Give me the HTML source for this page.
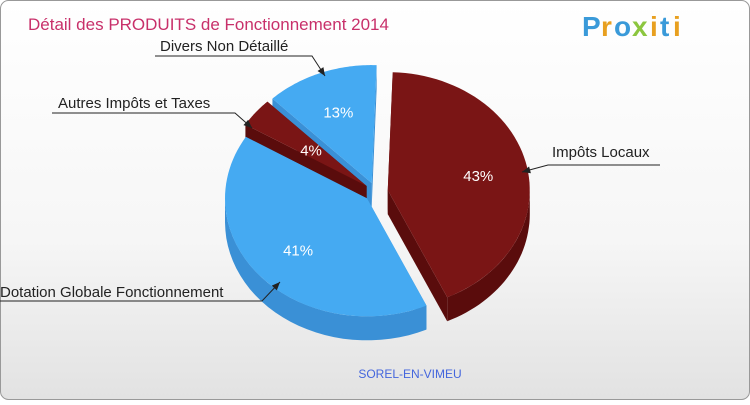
<!DOCTYPE html>
<html><head><meta charset="utf-8"><style>
body{margin:0;width:750px;height:400px;overflow:hidden;font-family:"Liberation Sans",sans-serif}
</style></head><body>
<svg id="c" width="750" height="400" viewBox="0 0 750 400" xmlns="http://www.w3.org/2000/svg">
<defs><linearGradient id="bg" x1="0" y1="0" x2="0" y2="1"><stop offset="0" stop-color="#ffffff"/><stop offset="0.6" stop-color="#f6f6f6"/><stop offset="1" stop-color="#e2e2e2"/></linearGradient></defs>
<rect x="0.5" y="0.5" width="749" height="399" rx="8" fill="url(#bg)" stroke="#999"/>
<text x="28" y="30" font-size="17" fill="#c8306a">Détail des PRODUITS de Fonctionnement 2014</text>
<g font-size="28" font-weight="bold">
<text x="582" y="36" fill="#3a9ad9">P</text><text x="601" y="36" fill="#e8a020">r</text><text x="614" y="36" fill="#3a9ad9">o</text><text x="632" y="36" fill="#8cc63f">x</text><text x="650" y="36" fill="#e8a020">i</text><text x="660" y="36" fill="#3a9ad9">t</text><text x="673" y="36" fill="#e8a020">i</text>
</g>
<text x="410" y="378" font-size="12" fill="#4466dd" text-anchor="middle">SOREL-EN-VIMEU</text>
<g id="pie"></g>
<g id="labels"></g>
</svg>
<script>
const categories=["Impôts Locaux","Dotation Globale Fonctionnement","Autres Impôts et Taxes","Divers Non Détaillé"];
const values=[43,41,4,13];
const pctLabels=["43%","41%","4%","13%"];
const NS="http://www.w3.org/2000/svg";
const cx=376,cy=192,rx=142,ry=118,depth=24,startDeg=-88;
const tops=["#7a1515","#45aaf2","#7a1515","#45aaf2"];
const sides=["#5a0c0c","#3a90d6","#5a0c0c","#3a90d6"];
const explode=[12,12,12,12];
const total=values.reduce((a,b)=>a+b,0);
const pie=document.getElementById('pie'),lab=document.getElementById('labels');
function pt(a,ox,oy,dy){const r=a*Math.PI/180;return [cx+ox+rx*Math.cos(r),cy+oy+ry*Math.sin(r)+(dy||0)];}
let acc=startDeg;const slices=[];
values.forEach((v,i)=>{const a0=acc,a1=acc+v/total*360;acc=a1;const m=(a0+a1)/2*Math.PI/180;
slices.push({i,a0,a1,ox:explode[i]*Math.cos(m),oy:explode[i]*Math.sin(m)*0.8,m});});
slices.forEach(s=>{
 const lo=Math.max(s.a0,0),hi=Math.min(s.a1,180);
 const segs=[[lo,hi]];
 if(s.a1>360){segs.push([Math.max(s.a0,360),Math.min(s.a1,540)]);}
 segs.forEach(([l,h])=>{if(h<=l)return;let d="";const n=30;
  for(let k=0;k<=n;k++){const p=pt(l+(h-l)*k/n,s.ox,s.oy,0);d+=(k?"L":"M")+p[0].toFixed(1)+","+p[1].toFixed(1);}
  for(let k=n;k>=0;k--){const p=pt(l+(h-l)*k/n,s.ox,s.oy,depth);d+="L"+p[0].toFixed(1)+","+p[1].toFixed(1);}
  const e=document.createElementNS(NS,'path');e.setAttribute('d',d+"Z");e.setAttribute('fill',sides[s.i]);
  
  
  pie.appendChild(e);});
 [s.a0,s.a1].forEach(a=>{const px=cx+s.ox,py=cy+s.oy;const p=pt(a,s.ox,s.oy,0);
  const e=document.createElementNS(NS,'path');
  e.setAttribute('d',`M${px},${py}L${p[0]},${p[1]}L${p[0]},${p[1]+depth}L${px},${py+depth}Z`);
  e.setAttribute('fill',sides[s.i]);
  
  
  pie.insertBefore(e,pie.firstChild);});
});
slices.forEach(s=>{let d=`M${cx+s.ox},${cy+s.oy}`;const n=60;
 for(let k=0;k<=n;k++){const p=pt(s.a0+(s.a1-s.a0)*k/n,s.ox,s.oy,0);d+="L"+p[0].toFixed(1)+","+p[1].toFixed(1);}
 const e=document.createElementNS(NS,'path');e.setAttribute('d',d+"Z");e.setAttribute('fill',tops[s.i]);
 
 
 pie.appendChild(e);
 const t=document.createElementNS(NS,'text');const f=s.i==2?0.5:0.65;
 t.setAttribute('x',cx+s.ox+rx*f*Math.cos(s.m));t.setAttribute('y',cy+s.oy+ry*f*Math.sin(s.m)+6);
 t.setAttribute('text-anchor','middle');t.setAttribute('font-size','15');t.setAttribute('fill','#fff');t.textContent=pctLabels[s.i];
 
 
 pie.appendChild(t);});
const callouts=[
 {tx:552,ty:157,anchor:"start",line:[[660,165],[548,165],[522,172]]},
 {tx:0,ty:297,anchor:"start",line:[[0,301],[262,301],[280,282]]},
 {tx:58,ty:108,anchor:"start",line:[[52,113],[235,113],[252,128]]},
 {tx:160,ty:51,anchor:"start",line:[[155,56],[312,56],[325,76]]}];
callouts.forEach((c,i)=>{
 const pl=document.createElementNS(NS,'polyline');pl.setAttribute('points',c.line.map(p=>p.join(',')).join(' '));
 pl.setAttribute('fill','none');pl.setAttribute('stroke','#222');pl.setAttribute('stroke-width','1');
 
 
 lab.appendChild(pl);
 const a=c.line[2],b=c.line[1],ang=Math.atan2(a[1]-b[1],a[0]-b[0]);
 const h=document.createElementNS(NS,'path');
 const p1=[a[0]-9*Math.cos(ang-0.4),a[1]-9*Math.sin(ang-0.4)],p2=[a[0]-9*Math.cos(ang+0.4),a[1]-9*Math.sin(ang+0.4)];
 h.setAttribute('d',`M${a[0]},${a[1]}L${p1[0]},${p1[1]}L${p2[0]},${p2[1]}Z`);h.setAttribute('fill','#222');
 
 
 lab.appendChild(h);
 const t=document.createElementNS(NS,'text');t.setAttribute('x',c.tx);t.setAttribute('y',c.ty);t.setAttribute('font-size','15');t.setAttribute('fill','#222');
 t.textContent=categories[i];
 
 
 lab.appendChild(t);});
</script>
</body></html>
